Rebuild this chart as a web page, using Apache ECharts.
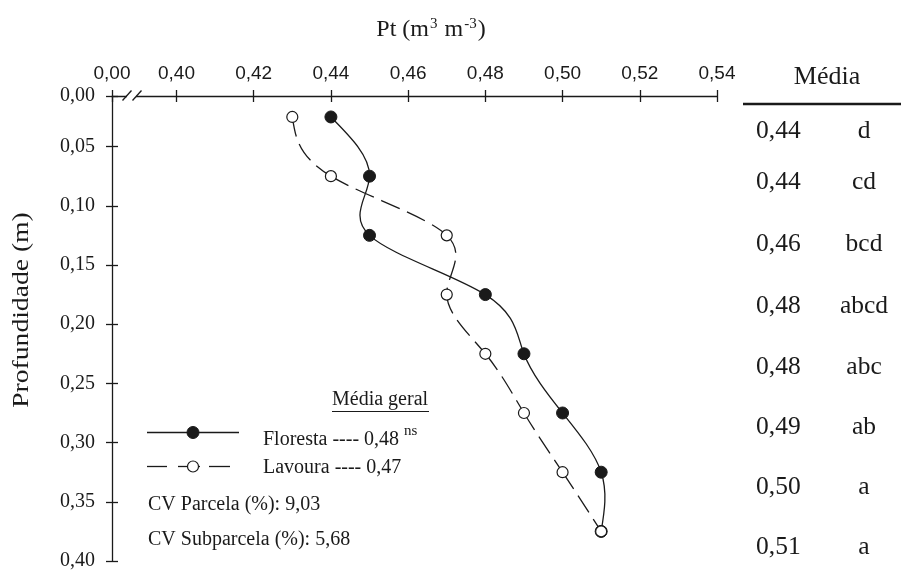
<!DOCTYPE html>
<html>
<head>
<meta charset="utf-8">
<script src="https://cdn.jsdelivr.net/npm/echarts@6/dist/echarts.min.js"></script>
<style>
  html, body { margin: 0; padding: 0; background: #fff; }
  #chart { width: 901px; height: 571px; }
</style>
</head>
<body>
<div id="chart"></div>
<script>
// Depth of each sampling layer (m) and total porosity Pt (m3 m-3)
const depth    = [0.025, 0.075, 0.125, 0.175, 0.225, 0.275, 0.325, 0.375];
const floresta = [0.44, 0.45, 0.45, 0.48, 0.49, 0.50, 0.51, 0.51];
const lavoura  = [0.43, 0.44, 0.47, 0.47, 0.48, 0.49, 0.50, 0.51];

// Axis ticks; the first tick of each axis stands for a broken origin labelled 0,00
const xBreak = 0.3833;
const xTicks = [0.40, 0.42, 0.44, 0.46, 0.48, 0.50, 0.52, 0.54];
const yTop   = 0.0073;
const yTicks = [0.05, 0.10, 0.15, 0.20, 0.25, 0.30, 0.35, 0.40];

// Mean per layer with letters of the mean comparison test
const mediaValues  = ['0,44', '0,44', '0,46', '0,48', '0,48', '0,49', '0,50', '0,51'];
const mediaLetters = ['d', 'cd', 'bcd', 'abcd', 'abc', 'ab', 'a', 'a'];

// Overall means and coefficients of variation
const mediaGeral = { floresta: '0,48', lavoura: '0,47', sig: 'ns' };
const cvParcela = '9,03';
const cvSubparcela = '5,68';

const SERIF = '"Liberation Serif", "Times New Roman", serif';
const SANS = '"Liberation Sans", Arial, sans-serif';
const INK = '#1a1a1a';

const fmt = v => v.toFixed(2).replace('.', ',');
const pair = arr => arr.map((x, i) => [x, depth[i]]);

// Natural cubic spline of Pt as a function of depth, returned as Bezier segments
// in data space (both axes are linear, so the segments map straight to pixels).
function splineSegments(xs, ys) {
  const n = xs.length;
  const h = [];
  for (let i = 0; i < n - 1; i++) h.push(ys[i + 1] - ys[i]);
  const a = new Array(n).fill(0), b = new Array(n).fill(1), c = new Array(n).fill(0), r = new Array(n).fill(0);
  for (let i = 1; i < n - 1; i++) {
    a[i] = h[i - 1];
    b[i] = 2 * (h[i - 1] + h[i]);
    c[i] = h[i];
    r[i] = 6 * ((xs[i + 1] - xs[i]) / h[i] - (xs[i] - xs[i - 1]) / h[i - 1]);
  }
  // Thomas algorithm
  const cp = new Array(n).fill(0), rp = new Array(n).fill(0);
  cp[0] = c[0] / b[0]; rp[0] = r[0] / b[0];
  for (let i = 1; i < n; i++) {
    const m = b[i] - a[i] * cp[i - 1];
    cp[i] = c[i] / m;
    rp[i] = (r[i] - a[i] * rp[i - 1]) / m;
  }
  const M = new Array(n).fill(0);
  M[n - 1] = rp[n - 1];
  for (let i = n - 2; i >= 0; i--) M[i] = rp[i] - cp[i] * M[i + 1];

  const segs = [];
  for (let i = 0; i < n - 1; i++) {
    const hi = h[i];
    const s = (xs[i + 1] - xs[i]) / hi;
    const d0 = s - hi * (2 * M[i] + M[i + 1]) / 6;
    const d1 = s + hi * (M[i] + 2 * M[i + 1]) / 6;
    segs.push([
      [xs[i], ys[i]],
      [xs[i] + d0 * hi / 3, ys[i] + hi / 3],
      [xs[i + 1] - d1 * hi / 3, ys[i + 1] - hi / 3],
      [xs[i + 1], ys[i + 1]]
    ]);
  }
  return segs;
}

function curveSeries(name, values, dash, z) {
  const segs = splineSegments(values, depth);
  return {
    name: name, type: 'custom', coordinateSystem: 'cartesian2d',
    xAxisIndex: 0, yAxisIndex: 0, z: z, silent: true,
    data: pair(values),
    renderItem: (params, api) => {
      if (params.dataIndex !== 0) return null;
      const children = segs.map(s => {
        const p0 = api.coord(s[0]), c1 = api.coord(s[1]), c2 = api.coord(s[2]), p3 = api.coord(s[3]);
        return {
          type: 'bezierCurve',
          shape: { x1: p0[0], y1: p0[1], cpx1: c1[0], cpy1: c1[1], cpx2: c2[0], cpy2: c2[1], x2: p3[0], y2: p3[1] },
          style: { fill: null, stroke: INK, lineWidth: 1.3, lineDash: dash }
        };
      });
      return { type: 'group', children: children };
    }
  };
}

const chart = echarts.init(document.getElementById('chart'), null, { renderer: 'canvas' });

const xAll = [xBreak].concat(xTicks);
const yAll = [yTop].concat(yTicks);

const baseX = {
  type: 'value', position: 'top', min: xBreak, max: 0.54, gridIndex: 0,
  splitLine: { show: false }
};
const baseY = {
  type: 'value', position: 'left', inverse: true, min: yTop, max: 0.40, gridIndex: 0,
  splitLine: { show: false }
};

// Right-hand table rows (vertical centres)
const rowY = [131, 182, 244, 306, 367, 427, 487, 547];
const tableGraphics = [];
mediaValues.forEach((v, i) => {
  tableGraphics.push({
    type: 'text', x: 756, y: rowY[i],
    style: { text: v, font: '25.5px ' + SERIF, fill: INK, textAlign: 'left', textVerticalAlign: 'middle' }
  });
  tableGraphics.push({
    type: 'text', x: 864, y: rowY[i],
    style: { text: mediaLetters[i], font: '25.5px ' + SERIF, fill: INK, textAlign: 'center', textVerticalAlign: 'middle' }
  });
});

const legendFont = '20px ' + SERIF;

const option = {
  animation: false,
  backgroundColor: '#fff',
  grid: { left: 112, top: 96, width: 605, height: 465, containLabel: false },
  xAxis: [
    Object.assign({}, baseX, {
      axisLine: { show: true, lineStyle: { color: INK, width: 1.3 } },
      axisTick: { show: true, inside: false, length: 6, customValues: xAll, lineStyle: { color: INK, width: 1.3 } },
      axisLabel: {
        show: true, customValues: xAll, margin: 13,
        fontFamily: SANS, fontSize: 19, color: INK,
        formatter: v => Math.abs(v - xBreak) < 1e-6 ? '0,00' : fmt(v)
      }
    }),
    Object.assign({}, baseX, {
      axisLine: { show: false },
      axisTick: { show: true, inside: true, length: 6, customValues: xAll, lineStyle: { color: INK, width: 1.3 } },
      axisLabel: { show: false }
    })
  ],
  yAxis: [
    Object.assign({}, baseY, {
      axisLine: { show: true, lineStyle: { color: INK, width: 1.3 } },
      axisTick: { show: true, inside: false, length: 6, customValues: yAll, lineStyle: { color: INK, width: 1.3 } },
      axisLabel: {
        show: true, customValues: yAll, margin: 17,
        fontFamily: SERIF, fontSize: 20, color: INK,
        formatter: v => Math.abs(v - yTop) < 1e-6 ? '0,00' : fmt(v)
      }
    }),
    Object.assign({}, baseY, {
      axisLine: { show: false },
      axisTick: { show: true, inside: true, length: 6, customValues: yAll, lineStyle: { color: INK, width: 1.3 } },
      axisLabel: { show: false }
    })
  ],
  series: [
    curveSeries('Floresta', floresta, null, 2),
    {
      name: 'Floresta', type: 'scatter', xAxisIndex: 0, yAxisIndex: 0,
      data: pair(floresta),
      symbol: 'circle', symbolSize: 12,
      itemStyle: { color: INK, borderColor: INK, borderWidth: 1, opacity: 1 },
      z: 3
    },
    curveSeries('Lavoura', lavoura, [20, 8], 4),
    {
      name: 'Lavoura', type: 'scatter', xAxisIndex: 0, yAxisIndex: 0,
      data: pair(lavoura),
      symbol: 'circle', symbolSize: 11,
      itemStyle: { color: '#fff', borderColor: INK, borderWidth: 1.2, opacity: 1 },
      z: 5
    }
  ],
  graphic: [
    // axis title on top
    {
      type: 'text', x: 431, y: 29,
      style: {
        text: '{a|Pt (m}{s|3}{a| m}{s|-3}{a|)}',
        textAlign: 'center', textVerticalAlign: 'middle',
        rich: {
          a: { font: '24px ' + SERIF, fill: INK, verticalAlign: 'bottom' },
          s: { font: '15px ' + SERIF, fill: INK, verticalAlign: 'top', padding: [0, 1, 10, 1] }
        }
      }
    },
    // vertical axis title
    {
      type: 'text', x: 22, y: 310, rotation: Math.PI / 2, scaleX: 1.15,
      style: { text: 'Profundidade (m)', font: '24px ' + SERIF, fill: INK, textAlign: 'center', textVerticalAlign: 'middle' }
    },
    // break marks on the Pt axis
    { type: 'rect', shape: { x: 127, y: 92, width: 9, height: 8 }, style: { fill: '#fff' }, z: 100 },
    { type: 'line', shape: { x1: 122.5, y1: 100.5, x2: 131.5, y2: 90.5 }, style: { stroke: INK, lineWidth: 1.3 }, z: 101 },
    { type: 'line', shape: { x1: 132.5, y1: 100.5, x2: 141.5, y2: 90.5 }, style: { stroke: INK, lineWidth: 1.3 }, z: 101 },

    // legend block
    {
      type: 'text', x: 332, y: 400,
      style: { text: 'Média geral', font: legendFont, fill: INK, textAlign: 'left', textVerticalAlign: 'middle' }
    },
    { type: 'line', shape: { x1: 332, y1: 411.5, x2: 429, y2: 411.5 }, style: { stroke: INK, lineWidth: 1 } },
    { type: 'line', shape: { x1: 147, y1: 432.5, x2: 239, y2: 432.5 }, style: { stroke: INK, lineWidth: 1.3 } },
    { type: 'circle', shape: { cx: 193, cy: 432.5, r: 6 }, style: { fill: INK, stroke: INK } },
    { type: 'line', shape: { x1: 147, y1: 466.5, x2: 167, y2: 466.5 }, style: { stroke: INK, lineWidth: 1.3 } },
    { type: 'line', shape: { x1: 178, y1: 466.5, x2: 200, y2: 466.5 }, style: { stroke: INK, lineWidth: 1.3 } },
    { type: 'line', shape: { x1: 209, y1: 466.5, x2: 230, y2: 466.5 }, style: { stroke: INK, lineWidth: 1.3 } },
    { type: 'circle', shape: { cx: 193, cy: 466.5, r: 5.5 }, style: { fill: '#fff', stroke: INK, lineWidth: 1.2 } },
    {
      type: 'text', x: 263, y: 440,
      style: {
        text: '{a|Floresta ---- ' + mediaGeral.floresta + ' }{s|' + mediaGeral.sig + '}',
        textAlign: 'left', textVerticalAlign: 'middle',
        rich: {
          a: { font: legendFont, fill: INK },
          s: { font: '15px ' + SERIF, fill: INK, padding: [0, 0, 17, 0] }
        }
      }
    },
    {
      type: 'text', x: 263, y: 468,
      style: { text: 'Lavoura ---- ' + mediaGeral.lavoura, font: legendFont, fill: INK, textAlign: 'left', textVerticalAlign: 'middle' }
    },
    {
      type: 'text', x: 148, y: 504.5,
      style: { text: 'CV Parcela (%): ' + cvParcela, font: legendFont, fill: INK, textAlign: 'left', textVerticalAlign: 'middle' }
    },
    {
      type: 'text', x: 148, y: 539.5,
      style: { text: 'CV Subparcela (%): ' + cvSubparcela, font: legendFont, fill: INK, textAlign: 'left', textVerticalAlign: 'middle' }
    },

    // mean table on the right
    {
      type: 'text', x: 827, y: 77,
      style: { text: 'Média', font: '26px ' + SERIF, fill: INK, textAlign: 'center', textVerticalAlign: 'middle' }
    },
    { type: 'line', shape: { x1: 743, y1: 104, x2: 901, y2: 104 }, style: { stroke: INK, lineWidth: 2.5 } }
  ].concat(tableGraphics)
};

chart.setOption(option);
</script>
</body>
</html>
